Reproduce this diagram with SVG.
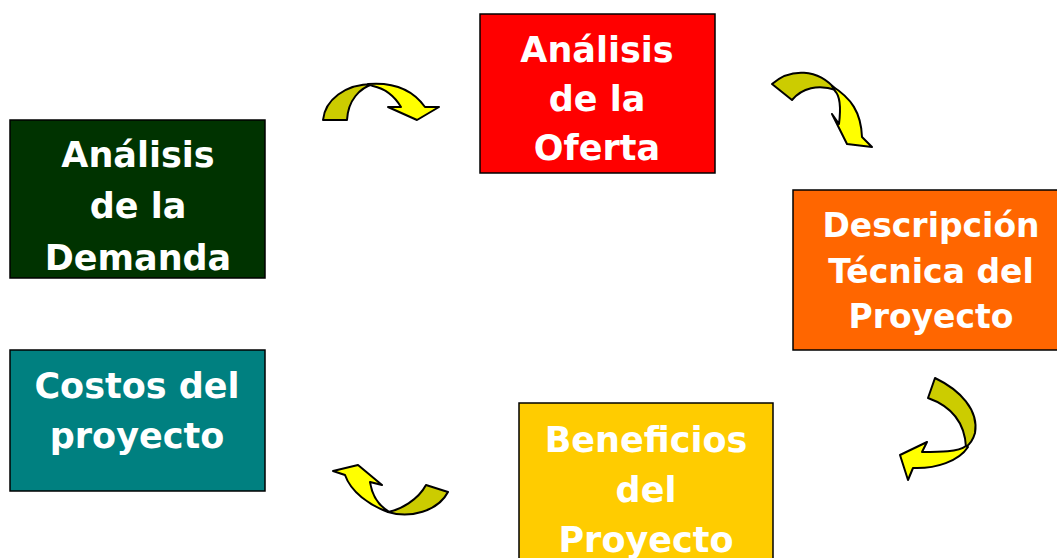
<svg xmlns="http://www.w3.org/2000/svg" width="1057" height="558" viewBox="0 0 1057 558">
<style>
.box{stroke:#000;stroke-width:1.5}
.t{font-family:"DejaVu Sans","Verdana",sans-serif;font-weight:bold;font-size:35px;fill:#fff;text-anchor:middle}
.t3{font-size:33px}
.tail{fill:#CCCC00;stroke:#000;stroke-width:2;stroke-linejoin:round}
.head{fill:#FFFF00;stroke:#000;stroke-width:2;stroke-linejoin:round}
</style>
<rect width="1057" height="558" fill="#fff"/>
<g id="demanda">
<rect class="box" x="10" y="120" width="255" height="158" fill="#003300"/>
<text class="t" x="138" y="167">Análisis</text>
<text class="t" x="138" y="218">de la</text>
<text class="t" x="138" y="270">Demanda</text>
</g>
<g id="oferta">
<rect class="box" x="480" y="14" width="235" height="159" fill="#FF0000"/>
<text class="t" x="597" y="62">Análisis</text>
<text class="t" x="597" y="111">de la</text>
<text class="t" x="597" y="160">Oferta</text>
</g>
<g id="descripcion">
<rect class="box" x="793" y="190" width="266" height="160" fill="#FF6600"/>
<text class="t t3" x="931" y="237">Descripción</text>
<text class="t t3" x="931" y="283">Técnica del</text>
<text class="t t3" x="931" y="328">Proyecto</text>
</g>
<g id="beneficios">
<rect class="box" x="519" y="403" width="254" height="160" fill="#FFCC00"/>
<text class="t" x="646" y="452">Beneficios</text>
<text class="t" x="646" y="502">del</text>
<text class="t" x="646" y="552">Proyecto</text>
</g>
<g id="costos">
<rect class="box" x="10" y="350" width="255" height="141" fill="#008080"/>
<text class="t" x="137" y="398">Costos del</text>
<text class="t" x="137" y="448">proyecto</text>
</g>
<g id="connectors">
<g id="arrow1">
<path class="tail" d="M323,120 C325,100 345,84 373,84 C360,88 348,100 347,120 Z"/>
<path class="head" d="M368,84 C393,82 413,90 425,107 L439,107 L417,120 L388,107 L401,107 C395,97 387,89 373,86 Z"/>
</g>
<g id="arrow2">
<path class="tail" d="M772,84 C790,68 818,68 836,90 C818,84 802,88 792,100 Z"/>
<path class="head" d="M832,86 C851,98 861,112 862,137 L872,147 L847,144 L832,114 L839,124 C841,108 840,96 835,91 Z"/>
</g>
<g id="arrow3">
<path class="tail" d="M935,378 C960,390 979,410 975,433 C973,440 970,444 966,447 C965,428 956,408 928,398 Z"/>
<path class="head" d="M966,446 C958,452 940,452 922,452 L927,442 L900,455 L908,480 L913,468 C936,469 959,461 968,447 Z"/>
</g>
<g id="arrow4">
<path class="tail" d="M448,492 C438,511 410,519 388,512 C400,510 418,500 426,485 Z"/>
<path class="head" d="M388,512 C369,505 351,492 345,475 L333,471 L358,465 L382,485 L370,482 C372,495 378,505 388,511 Z"/>
</g>
</g>
</svg>
